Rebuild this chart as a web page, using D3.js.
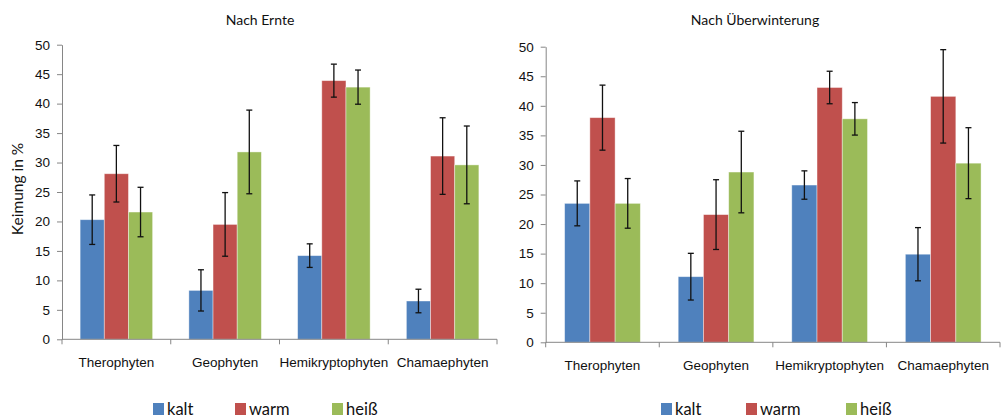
<!DOCTYPE html>
<html>
<head>
<meta charset="utf-8">
<script src="https://cdn.jsdelivr.net/npm/d3@7"></script>
<style>
  body { margin: 0; background: #fff; }
  svg { display: block; font-family: Lato, "Open Sans", sans-serif; }
  .axis path, .axis line { stroke: #868686; }
  .axis text { fill: #111; font-size: 13.5px; }
</style>
</head>
<body>
<div id="chart"></div>
<script>
// categories and series
var categories = ["Therophyten", "Geophyten", "Hemikryptophyten", "Chamaephyten"];
var series = ["kalt", "warm", "heiß"];
var colors = ["#4F81BD", "#C0504D", "#9BBB59"];
var yTicks = [0, 5, 10, 15, 20, 25, 30, 35, 40, 45, 50];

// Nach Ernte: values per series (one entry per category) and error
var ernteKalt = [20.3, 8.3, 14.2, 6.5];
var ernteWarm = [28.1, 19.5, 43.9, 31.1];
var ernteHeiss = [21.6, 31.8, 42.8, 29.6];
var ernteKaltErr = [4.2, 3.5, 2.0, 2.0];
var ernteWarmErr = [4.8, 5.4, 2.8, 6.5];
var ernteHeissErr = [4.2, 7.1, 2.9, 6.6];

// Nach Überwinterung
var winterKalt = [23.5, 11.1, 26.6, 14.9];
var winterWarm = [38.0, 21.6, 43.1, 41.6];
var winterHeiss = [23.5, 28.8, 37.8, 30.3];
var winterKaltErr = [3.8, 3.95, 2.4, 4.5];
var winterWarmErr = [5.5, 5.9, 2.75, 7.9];
var winterHeissErr = [4.2, 6.9, 2.75, 6.0];

var W = 1004, H = 419;
var svg = d3.select("#chart").append("svg")
    .attr("width", W).attr("height", H);

function drawPanel(opt) {
  var vals = [opt.kalt, opt.warm, opt.heiss];
  var errs = [opt.kaltErr, opt.warmErr, opt.heissErr];

  var x = d3.scaleBand().domain(categories).range([opt.x0, opt.x1]).padding(0);
  var xs = d3.scaleBand().domain(series).range([0, x.bandwidth()])
      .paddingInner(0).paddingOuter(0.75);
  var y = d3.scaleLinear().domain([0, 50]).range([opt.yBottom, opt.yTop]);

  var g = svg.append("g");

  // title
  g.append("text")
    .attr("x", opt.titleX).attr("y", 25)
    .attr("text-anchor", "middle")
    .style("font-size", "14px").style("fill", "#111")
    .text(opt.title);

  // bars
  var rows = [];
  categories.forEach(function(c, i) {
    series.forEach(function(s, j) {
      rows.push({cat: c, ser: s, si: j, v: vals[j][i], e: errs[j][i]});
    });
  });

  g.selectAll("rect.bar")
    .data(rows)
    .enter().append("rect")
      .attr("class", "bar")
      .attr("x", function(d){ return x(d.cat) + xs(d.ser); })
      .attr("width", xs.bandwidth())
      .attr("y", function(d){ return y(d.v); })
      .attr("height", function(d){ return y(0) - y(d.v); })
      .attr("fill", function(d){ return colors[d.si]; })
      .attr("stroke", "#fff").attr("stroke-opacity", 0.5).attr("stroke-width", 0.8);

  // error bars
  var eb = g.selectAll("g.err").data(rows).enter().append("g")
      .attr("transform", function(d){ return "translate(" + (x(d.cat) + xs(d.ser) + xs.bandwidth() / 2) + ",0)"; })
      .attr("stroke", "#111").attr("stroke-width", 1.3);
  eb.append("line")
    .attr("y1", function(d){ return y(d.v + d.e); })
    .attr("y2", function(d){ return y(d.v - d.e); });
  eb.append("line").attr("x1", -3).attr("x2", 3)
    .attr("y1", function(d){ return y(d.v + d.e); })
    .attr("y2", function(d){ return y(d.v + d.e); });
  eb.append("line").attr("x1", -3).attr("x2", 3)
    .attr("y1", function(d){ return y(d.v - d.e); })
    .attr("y2", function(d){ return y(d.v - d.e); });

  // y axis
  g.append("g").attr("class", "axis")
    .attr("transform", "translate(" + opt.x0 + ",0)")
    .call(d3.axisLeft(y).tickValues(yTicks).tickSize(5).tickSizeOuter(0).tickPadding(7));

  // x axis: line + boundary ticks, labels at centres
  var xa = g.append("g").attr("class", "axis")
    .attr("transform", "translate(0," + y(0) + ")")
    .call(d3.axisBottom(x).tickSize(0).tickPadding(18));
  xa.select(".domain").remove();
  xa.append("line").attr("x1", opt.x0).attr("x2", opt.x1).attr("stroke", "#868686");
  xa.selectAll("line.bound")
    .data(d3.range(categories.length + 1))
    .enter().append("line").attr("class", "bound")
      .attr("x1", function(i){ return opt.x0 + i * x.step(); })
      .attr("x2", function(i){ return opt.x0 + i * x.step(); })
      .attr("y1", 0).attr("y2", 5);

  // legend
  var lg = g.selectAll("g.leg").data(series).enter().append("g")
      .attr("transform", function(d, i){ return "translate(" + opt.legendX[i] + ",403)"; });
  lg.append("rect").attr("width", 11).attr("height", 12)
    .attr("fill", function(d, i){ return colors[i]; });
  lg.append("text").attr("x", 14).attr("y", 11.5)
    .style("font-size", "16.5px").style("fill", "#111")
    .text(function(d){ return d; });

  return g;
}

drawPanel({
  title: "Nach Ernte", titleX: 260,
  x0: 62, x1: 497, yTop: 44.7, yBottom: 339.3,
  legendX: [153, 235, 332],
  kalt: ernteKalt, warm: ernteWarm, heiss: ernteHeiss,
  kaltErr: ernteKaltErr, warmErr: ernteWarmErr, heissErr: ernteHeissErr
});

drawPanel({
  title: "Nach Überwinterung", titleX: 755,
  x0: 545.7, x1: 1000, yTop: 46.7, yBottom: 342.3,
  legendX: [661, 746, 846],
  kalt: winterKalt, warm: winterWarm, heiss: winterHeiss,
  kaltErr: winterKaltErr, warmErr: winterWarmErr, heissErr: winterHeissErr
});

// y axis label
svg.append("text")
  .attr("transform", "translate(23,189) rotate(-90)")
  .attr("text-anchor", "middle")
  .style("font-size", "15.5px").style("fill", "#111")
  .text("Keimung in %");
</script>
</body>
</html>
